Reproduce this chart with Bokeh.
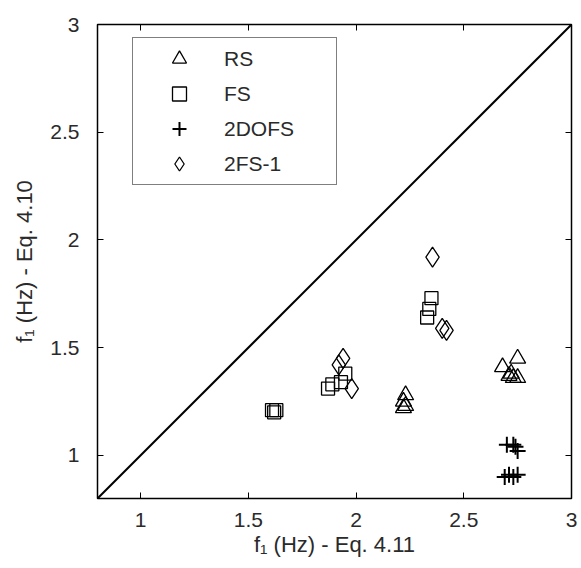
import numpy as np
from bokeh.plotting import figure
from bokeh.models import Range1d, FixedTicker, LinearAxis, Legend, LegendItem, Slope
from bokeh.embed import file_html
from bokeh.resources import INLINE

# ---- data ----
rs_x = [2.22, 2.23, 2.22, 2.23, 2.75, 2.68, 2.71, 2.73, 2.75, 2.72]
rs_y = [1.22, 1.23, 1.25, 1.28, 1.45, 1.41, 1.37, 1.36, 1.36, 1.38]

fs_x = [1.61, 1.63, 1.62, 1.87, 1.89, 1.93, 1.95, 2.33, 2.34, 2.35]
fs_y = [1.21, 1.21, 1.20, 1.31, 1.33, 1.34, 1.38, 1.64, 1.68, 1.73]

dofs_x = [2.70, 2.73, 2.75, 2.74, 2.69, 2.71, 2.73, 2.75]
dofs_y = [1.05, 1.05, 1.02, 1.04, 0.90, 0.91, 0.90, 0.91]

fs1_x = [2.355, 2.40, 2.42, 1.94, 1.92, 1.98]
fs1_y = [1.92, 1.59, 1.58, 1.45, 1.42, 1.31]

tick_vals = [1, 1.5, 2, 2.5, 3]
tick_labels = ["1", "1.5", "2", "2.5", "3"]
series_labels = ["RS", "FS", "2DOFS", "2FS-1"]

FONT = "Liberation Sans"
TXT = "#2a2a2a"

p = figure(width=579, height=566, output_backend="svg", toolbar_location=None,
           x_range=Range1d(0.8, 3), y_range=Range1d(0.8, 3),
           min_border_left=97, min_border_right=8, min_border_top=24, min_border_bottom=68)
p.background_fill_color = "white"
p.border_fill_color = "white"
p.xgrid.visible = False
p.ygrid.visible = False
p.outline_line_color = "black"
p.outline_line_width = 1.5

overrides = {v: l for v, l in zip(tick_vals, tick_labels)}
for ax in (p.xaxis[0], p.yaxis[0]):
    ax.ticker = FixedTicker(ticks=tick_vals)
    ax.major_label_overrides = overrides
    ax.major_tick_in = 6
    ax.major_tick_out = 0
    ax.minor_tick_line_color = None
    ax.axis_line_color = "black"
    ax.major_tick_line_color = "black"
    ax.major_label_text_font = FONT
    ax.major_label_text_font_size = "21px"
    ax.major_label_text_color = TXT
    ax.axis_label_text_font = FONT
    ax.axis_label_text_font_size = "22px"
    ax.axis_label_text_font_style = "normal"
    ax.axis_label_text_color = TXT

p.xaxis[0].axis_label = "f\u2081 (Hz) - Eq. 4.11"
p.yaxis[0].axis_label = "f\u2081 (Hz) - Eq. 4.10"
p.xaxis[0].major_label_standoff = 14
p.xaxis[0].axis_label_standoff = 2
p.yaxis[0].major_label_standoff = 18
p.yaxis[0].axis_label_standoff = 10

for side in ("above", "right"):
    ax = LinearAxis(ticker=FixedTicker(ticks=tick_vals), major_tick_in=6, major_tick_out=0,
                    minor_tick_line_color=None, major_label_text_color=None,
                    major_label_text_font_size="1px",
                    major_label_standoff=0, axis_line_color="black")
    p.add_layout(ax, side)

# diagonal y = x
p.add_layout(Slope(gradient=1, y_intercept=0, line_color="black", line_width=2))

r1 = p.scatter(rs_x, rs_y, marker="triangle", size=16, fill_color=None,
               line_color="black", line_width=1.3)
r2 = p.scatter(fs_x, fs_y, marker="square", size=13, fill_color=None,
               line_color="black", line_width=1.3)
r3 = p.scatter(dofs_x, dofs_y, marker="cross", size=16, fill_color=None,
               line_color="black", line_width=2)
r4 = p.scatter(fs1_x, fs1_y, marker="diamond", size=20, fill_color=None,
               line_color="black", line_width=1.3)

legend = Legend(items=[LegendItem(label=l, renderers=[r]) for l, r in
                       zip(series_labels, [r1, r2, r3, r4])],
                location=(35, 313), orientation="vertical",
                glyph_width=86, glyph_height=35, label_width=109, label_height=20,
                label_standoff=2, padding=3, spacing=0, margin=0,
                border_line_color="black", border_line_width=1.5,
                background_fill_color="white", background_fill_alpha=1,
                label_text_font=FONT, label_text_font_size="21px", label_text_color=TXT)
p.add_layout(legend)

open("out.html", "w").write(file_html(p, INLINE))
